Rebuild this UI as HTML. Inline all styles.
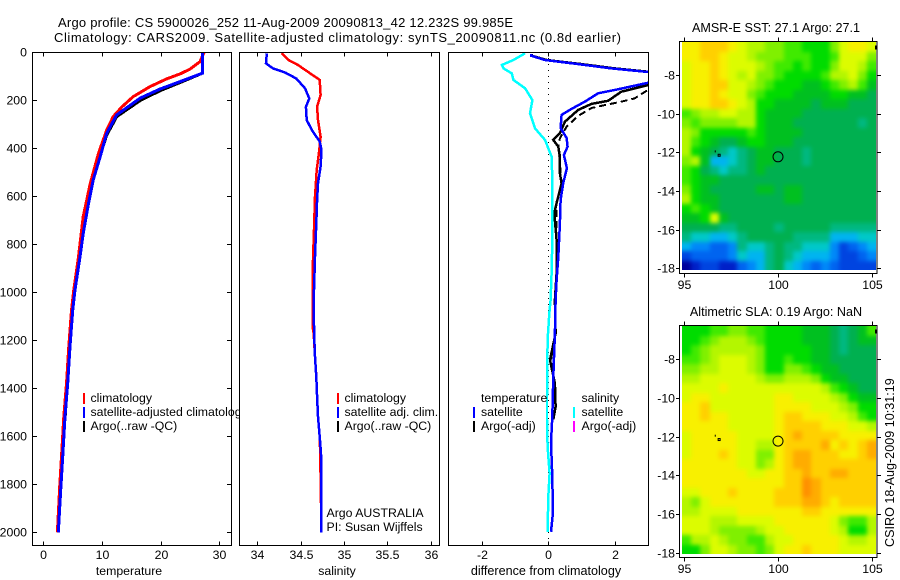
<!DOCTYPE html>
<html>
<head>
<meta charset="utf-8">
<title>Argo profile</title>
<style>
html,body{margin:0;padding:0;background:#fff;width:900px;height:580px;overflow:hidden}
svg{display:block}
text{font-family:"Liberation Sans",sans-serif;font-size:12.3px;fill:#000}
</style>
</head>
<body>
<svg id="chart" xmlns="http://www.w3.org/2000/svg" width="900" height="580" viewBox="0 0 900 580">
<defs>
<clipPath id="clip-temp"><rect x="32" y="52" width="200" height="494"/></clipPath>
<clipPath id="clip-sal"><rect x="239" y="52" width="201" height="494"/></clipPath>
<clipPath id="clip-diff"><rect x="448" y="52" width="201" height="494"/></clipPath>
<clipPath id="clip-map-sst"><rect x="682" y="42" width="194" height="228"/></clipPath>
<clipPath id="clip-map-sla"><rect x="682" y="326" width="194" height="228"/></clipPath>
<filter id="smooth-field" x="-10%" y="-10%" width="120%" height="120%" color-interpolation-filters="sRGB">
<feGaussianBlur stdDeviation="2.2"/>
<feComponentTransfer><feFuncA type="linear" slope="30"/></feComponentTransfer>
</filter>
</defs>
<rect x="0" y="0" width="900" height="580" fill="#fff"/>
<text x="58" y="27" textLength="455" lengthAdjust="spacing" style="font-size:13px">Argo profile: CS 5900026_252 11-Aug-2009 20090813_42 12.232S 99.985E</text>
<text x="54" y="42" textLength="567" lengthAdjust="spacing" style="font-size:13px">Climatology: CARS2009. Satellite-adjusted climatology: synTS_20090811.nc (0.8d earlier)</text>

<g id="panel-temp">
<g id="temp-lines" clip-path="url(#clip-temp)"></g>
<g id="temp-axes"></g>
<text x="129" y="575" text-anchor="middle">temperature</text>
<g>
<rect x="83" y="393" width="2" height="11" fill="#f00"/>
<rect x="83" y="407" width="2" height="11" fill="#00f"/>
<rect x="83" y="421" width="2" height="11" fill="#000"/>
<text x="90.5" y="402">climatology</text>
<text x="90.5" y="416">satellite-adjusted climatology</text>
<text x="90.5" y="430">Argo(..raw -QC)</text>
</g>
</g>

<g id="panel-sal">
<rect x="239" y="46" width="201" height="500" fill="#fff"/>
<g id="sal-lines" clip-path="url(#clip-sal)"></g>
<g id="sal-axes"></g>
<text x="337" y="575" text-anchor="middle">salinity</text>
<g>
<rect x="337" y="393" width="2" height="11" fill="#f00"/>
<rect x="337" y="407" width="2" height="11" fill="#00f"/>
<rect x="337" y="421" width="2" height="11" fill="#000"/>
<text x="344.5" y="402">climatology</text>
<text x="344.5" y="416">satellite adj. clim.</text>
<text x="344.5" y="430">Argo(..raw -QC)</text>
</g>
<text x="326.5" y="517">Argo AUSTRALIA</text>
<text x="326.5" y="531">PI: Susan Wijffels</text>
</g>

<g id="panel-diff">
<g id="diff-lines" clip-path="url(#clip-diff)"></g>
<g id="diff-axes"></g>
<text x="546" y="575" text-anchor="middle" style="font-size:12.6px">difference from climatology</text>
<g>
<rect x="473" y="407" width="2" height="11" fill="#00f"/>
<rect x="473" y="421" width="2" height="11" fill="#000"/>
<rect x="573" y="407" width="2" height="11" fill="#0ff"/>
<rect x="573" y="421" width="2" height="11" fill="#f0f"/>
<text x="481" y="402">temperature</text>
<text x="481" y="416">satellite</text>
<text x="481" y="430">Argo(-adj)</text>
<text x="581.5" y="402">salinity</text>
<text x="581.5" y="416">satellite</text>
<text x="581.5" y="430">Argo(-adj)</text>
</g>
</g>

<g id="map-sst"></g>
<text x="776" y="32" text-anchor="middle" style="font-size:12.6px">AMSR-E SST: 27.1 Argo: 27.1</text>
<g id="map-sla"></g>
<text x="776" y="316" text-anchor="middle" style="font-size:12.6px">Altimetric SLA: 0.19 Argo: NaN</text>
<text transform="translate(894,547) rotate(-90)" style="font-size:12.6px">CSIRO 18-Aug-2009 10:31:19</text>
</svg>

<script>
// ---- tick labels ----
const depthTicks = [0, 200, 400, 600, 800, 1000, 1200, 1400, 1600, 1800, 2000];
const tempTicks = [0, 10, 20, 30];
const salTicks = [34, 34.5, 35, 35.5, 36];
const diffTicks = [-2, 0, 2];
const lonTicks = [95, 100, 105];
const latTicks = [-8, -10, -12, -14, -16, -18];

// ---- temperature panel ----
const tempClimDepth = [0, 39, 70, 90, 111, 143, 185, 227, 268, 324, 421, 546, 685, 852, 990, 1075, 1226, 1380, 1518, 1685, 1810, 2000];
const tempClimValue = [27.4, 26.7, 25, 23.3, 21, 18.2, 15.3, 13.4, 11.9, 10.8, 9.4, 8, 6.8, 6, 5.2, 4.8, 4.35, 3.95, 3.5, 3.1, 2.8, 2.4];
const tempSatDepth = [0, 87, 122, 153, 191, 261, 337, 435, 532, 630, 755, 852, 990, 1075, 1226, 1380, 1518, 1685, 1810, 2000];
const tempSatValue = [27.1, 27.1, 23.3, 19.9, 16.5, 12.5, 10.8, 9.7, 8.5, 7.7, 6.8, 6.25, 5.4, 5, 4.55, 4.15, 3.7, 3.3, 3, 2.56];
const tempArgoDepth = [0, 87, 125, 158, 198, 268, 345, 435, 532, 630, 755, 852, 990, 1075, 1226, 1380, 1530];
const tempArgoValue = [27.1, 27.1, 23.4, 20.1, 16.7, 12.5, 10.8, 9.6, 8.4, 7.6, 6.7, 6.2, 5.3, 4.9, 4.4, 4.1, 3.7];

// ---- salinity panel ----
const salClimDepth = [4, 32, 53, 88, 115, 178, 227, 282, 352, 421, 490, 602, 727, 893, 1030, 1150, 1171, 1268, 1352, 1435, 1518, 1602, 1671, 2000];
const salClimValue = [34.28, 34.36, 34.47, 34.61, 34.72, 34.73, 34.69, 34.7, 34.73, 34.71, 34.685, 34.665, 34.655, 34.64, 34.64, 34.64, 34.65, 34.665, 34.68, 34.69, 34.7, 34.72, 34.725, 34.74];
const salSatDepth = [4, 46, 67, 84, 109, 150, 192, 227, 282, 324, 372, 407, 476, 546, 615, 712, 852, 977, 1030, 1171, 1268, 1352, 1435, 1518, 1602, 1671, 2000];
const salSatValue = [34.11, 34.1, 34.18, 34.32, 34.45, 34.55, 34.6, 34.56, 34.57, 34.63, 34.72, 34.74, 34.73, 34.7, 34.69, 34.68, 34.665, 34.655, 34.65, 34.655, 34.665, 34.68, 34.69, 34.7, 34.72, 34.735, 34.74];

// ---- difference panel ----
const diffSalDepth = [4, 32, 53, 67, 88, 115, 150, 199, 254, 317, 365, 435, 532, 671, 782, 921, 1032, 1088, 1199, 1435, 1530, 1643, 1754, 1852, 1998];
const diffSalValue = [-0.7, -1.05, -1.4, -1.35, -1.1, -1.05, -0.7, -0.48, -0.55, -0.4, -0.1, 0.1, 0.12, 0.12, 0.12, 0.1, 0.07, 0.03, -0.02, -0.04, -0.04, -0.02, 0.04, 0, -0.02];
const diffTempSatDepth = [8, 14, 32, 49, 67, 82, 100, 127, 154, 171, 206, 236, 261, 316, 357, 393, 428, 483, 546, 615, 712, 852, 949, 1032, 1171, 1352, 1518, 1628, 1768, 1920, 1998];
const diffTempSatValue = [-0.52, -0.52, -0.1, 0.9, 1.9, 3, 4.5, 3, 2.1, 1.5, 1.1, 0.7, 0.4, 0.37, 0.55, 0.58, 0.47, 0.56, 0.45, 0.37, 0.35, 0.3, 0.25, 0.22, 0.2, 0.15, 0.12, 0.08, 0.12, 0.14, 0.08];
const diffTempArgoDepth = [8, 14, 32, 49, 67, 82, 100, 130, 164, 202, 215, 240, 289, 337, 365, 393, 435, 504, 546, 628, 671, 782, 921, 1032, 1171, 1282, 1380, 1477, 1530];
const diffTempArgoValue = [-0.5, -0.5, -0.05, 1, 2, 3.1, 4.5, 3.2, 2.2, 1.8, 1.3, 0.9, 0.5, 0.35, 0.15, 0.3, 0.35, 0.35, 0.4, 0.25, 0.18, 0.25, 0.25, 0.2, 0.22, 0.05, 0.2, 0.22, 0.15];
const diffTempRawDepth = [130, 157, 192, 206, 220, 232, 265, 310, 358, 393, 463, 546, 628, 782, 921, 1032, 1171, 1282, 1380, 1477, 1530];
const diffTempRawValue = [3.6, 3, 2.6, 2.2, 1.7, 1.3, 0.9, 0.55, 0.35, 0.3, 0.35, 0.4, 0.25, 0.25, 0.25, 0.2, 0.22, 0.08, 0.2, 0.22, 0.15];

// ---- map grids (colour level, west to east, north to south) ----
const sstGrid = [
[15,15,16,16,16,15,14,13,13,12,12,11,11,10,10,10,12,14,15,15,14],
[15,15,16,16,15,14,14,13,12,12,12,11,11,11,10,10,11,14,14,14,12],
[14,15,15,16,15,14,14,14,13,12,11,11,10,11,10,10,12,14,14,13,11],
[14,15,15,16,15,14,13,14,12,12,11,10,10,10,10,11,13,13,14,12,10],
[14,15,15,16,16,14,14,13,12,11,10,10,10,9,9,10,11,12,13,11,9],
[14,15,15,16,15,14,14,12,11,10,10,10,9,9,9,9,10,10,9,9,8],
[14,15,15,16,16,15,14,13,10,10,9,9,9,9,8,9,9,9,8,8,8],
[11,12,13,13,14,14,13,13,10,9,9,9,9,8,8,8,8,8,8,8,8],
[12,11,12,12,12,12,13,13,10,9,9,9,8,8,8,8,8,8,8,7,8],
[13,12,10,10,10,10,10,11,10,9,9,9,9,8,8,8,8,8,8,8,8],
[13,11,10,9,8,8,9,10,10,9,9,9,8,8,8,8,8,8,8,8,8],
[13,10,9,8,7,6,7,8,9,9,8,8,8,7,8,8,8,8,8,8,8],
[12,13,9,5,5,6,7,8,9,9,8,8,8,7,8,8,8,8,8,8,8],
[11,10,8,7,6,7,7,8,9,8,8,8,8,8,8,8,8,8,8,8,8],
[11,10,9,9,8,8,8,8,8,8,8,8,8,8,8,8,8,8,8,8,8],
[12,10,9,8,8,8,8,8,9,9,8,9,9,8,8,8,8,8,8,8,8],
[13,10,9,9,8,8,8,8,8,8,8,9,9,8,8,8,8,8,8,8,8],
[10,11,10,9,8,8,8,8,8,8,8,8,8,8,8,8,8,8,8,8,8],
[9,9,10,14,9,8,8,8,8,8,8,8,8,8,8,8,8,8,8,8,8],
[8,8,8,8,7,7,8,8,8,8,7,8,8,8,8,8,7,7,7,7,7],
[7,6,6,5,5,6,7,8,8,8,8,8,7,7,7,7,5,5,5,6,6],
[5,4,4,3,3,4,7,6,6,7,8,7,7,6,6,6,4,2,3,4,5],
[2,3,3,3,3,4,6,5,5,7,8,7,6,5,5,5,4,2,2,3,4],
[0,1,2,2,1,1,3,4,5,7,8,6,5,4,3,4,3,2,2,2,2]
];
const slaGrid = [
[10,10,10,11,11,12,12,11,11,10,10,10,10,9,9,9,8,7,8,9,11],
[10,10,11,12,13,13,13,12,11,10,10,10,10,9,9,9,8,7,8,9,9],
[10,11,12,13,13,13,13,13,12,10,10,10,10,10,9,9,8,7,8,8,8],
[11,11,12,13,14,14,14,13,12,10,10,11,10,10,9,9,8,8,8,8,8],
[12,12,13,13,14,14,14,13,12,10,10,12,12,11,10,9,9,8,8,8,8],
[13,13,14,14,14,14,14,14,13,12,12,13,13,13,12,10,9,9,8,8,8],
[14,14,14,14,15,14,14,14,14,14,14,14,14,14,14,13,11,10,9,8,8],
[14,15,15,14,14,14,14,14,14,14,15,15,14,14,14,14,13,12,10,9,9],
[15,15,16,14,14,14,14,14,14,14,15,15,15,15,14,14,14,13,12,10,10],
[15,15,16,15,15,14,14,14,14,14,15,16,16,15,15,15,14,14,13,11,10],
[15,15,15,15,15,14,14,14,14,14,15,16,16,16,16,15,15,15,14,14,13],
[14,15,15,15,15,15,14,14,14,14,15,16,17,16,16,16,16,15,15,15,15],
[14,15,15,15,15,15,14,14,13,13,15,16,16,16,16,17,15,16,15,16,17],
[14,15,15,15,16,15,14,14,12,12,15,16,17,17,16,16,16,15,15,16,17],
[15,15,15,15,15,15,14,14,12,13,15,16,17,17,16,16,16,16,16,16,16],
[15,15,15,15,15,15,15,14,14,15,15,16,16,17,16,16,17,17,16,16,16],
[15,15,15,15,15,15,15,15,15,15,15,16,16,18,17,16,16,16,16,16,16],
[14,14,15,15,15,16,15,15,15,15,16,16,16,18,17,16,16,16,16,16,16],
[13,12,14,15,15,15,15,15,15,15,16,16,16,17,17,16,15,16,16,16,16],
[13,13,14,14,14,14,15,15,15,15,15,15,15,16,16,15,15,15,15,15,15],
[14,14,14,13,13,13,14,14,14,14,15,15,15,15,15,15,14,12,11,11,13],
[14,14,14,13,12,12,12,12,13,14,14,15,15,15,15,15,14,13,10,10,13],
[11,13,13,14,13,12,12,11,11,13,14,14,15,15,15,15,15,14,13,13,14],
[10,10,12,14,14,13,12,12,11,12,14,15,15,16,15,15,15,14,14,14,14]
];
const levelColors = ['#00009c','#0020c8','#0044e0','#0064f0','#0088f8','#00b4f0','#00c8c8','#00b880','#00b050','#00c020','#00dc00','#40ea00','#80f000','#b4f600','#dcfc00','#f8f000','#ffd000','#ffac00','#ff9000'];
const profileLon = 99.985;
const profileLat = -12.232;

const NS = 'http://www.w3.org/2000/svg';
function make(tag, attrs, parent) {
  const el = document.createElementNS(NS, tag);
  for (const k in attrs) el.setAttribute(k, attrs[k]);
  parent.appendChild(el);
  return el;
}
const depthY = d => 52.3 + d * 0.24;
const tempX = v => 43.3 + v * 5.87;
const salX = v => 257.3 + (v - 34) * 86.7;
const diffX = v => 548.3 + v * 33.2;
const lonX = v => 684.3 + (v - 95) * 18.8;

function drawLine(parent, xFn, depths, values, color, width, name, dash) {
  const pts = depths.map((d, i) => xFn(values[i]).toFixed(1) + ',' + depthY(d).toFixed(1)).join(' ');
  const attrs = {points: pts, fill: 'none', stroke: color, 'stroke-width': width, 'shape-rendering': 'crispEdges'};
  if (dash) attrs['stroke-dasharray'] = dash;
  const line = make('polyline', attrs, parent);
  
  
}
function line(parent, x1, y1, x2, y2, name) {
  const el = make('line', {x1: x1, y1: y1, x2: x2, y2: y2, stroke: '#000', 'stroke-width': 1, 'shape-rendering': 'crispEdges'}, parent);
  
  
}
function label(parent, x, y, str, anchor, name) {
  const t = make('text', {x: x, y: y, 'text-anchor': anchor}, parent);
  t.textContent = str;
  
  
}
function box(parent, x, y, w, h, name) {
  const r = make('rect', {x: x, y: y, width: w, height: h, fill: 'none', stroke: '#000', 'stroke-width': 1, 'shape-rendering': 'crispEdges'}, parent);
  
  
}
function profileAxes(parent, left, right, xFn, ticks, fmt) {
  const top = 52.5, bottom = 545.5;
  box(parent, left, top, right - left, bottom - top, 'plot-frame');
  ticks.forEach(v => {
    const x = Math.round(xFn(v)) + 0.5;
    line(parent, x, top, x, top + 4, 'x-tick-top');
    line(parent, x, bottom, x, bottom - 4, 'x-tick-bottom');
    label(parent, x, 559, fmt(v), 'middle', 'x-tick-label');
  });
}

// temperature
const tl = document.getElementById('temp-lines');
drawLine(tl, tempX, tempArgoDepth, tempArgoValue, '#000', 3, 'temperature-argo-line');
drawLine(tl, tempX, tempClimDepth, tempClimValue, '#f00', 3, 'temperature-climatology-line');
drawLine(tl, tempX, tempSatDepth, tempSatValue, '#00f', 3, 'temperature-satellite-line');
const ta = document.getElementById('temp-axes');
profileAxes(ta, 32.5, 231.5, tempX, tempTicks, String);
depthTicks.forEach(d => {
  const y = Math.round(depthY(d)) + 0.5;
  line(ta, 32.5, y, 37, y, 'y-tick-left');
  line(ta, 231.5, y, 227, y, 'y-tick-right');
  label(ta, 27, y + 4, String(d), 'end', 'y-tick-label');
});

// salinity
const sl = document.getElementById('sal-lines');
drawLine(sl, salX, salClimDepth, salClimValue, '#f00', 2.5, 'salinity-climatology-line');
drawLine(sl, salX, salSatDepth, salSatValue, '#00f', 2.5, 'salinity-satellite-line');
profileAxes(document.getElementById('sal-axes'), 239.5, 439.5, salX, salTicks, String);

// difference
const dl = document.getElementById('diff-lines');
const zero = make('line', {x1: diffX(0), y1: 52, x2: diffX(0), y2: 546, stroke: '#000', 'stroke-width': 1, 'stroke-dasharray': '1 5', 'shape-rendering': 'crispEdges'}, dl);


drawLine(dl, diffX, diffTempRawDepth, diffTempRawValue, '#000', 2, 'temperature-argo-raw-difference-line', '7 4');
drawLine(dl, diffX, diffTempArgoDepth, diffTempArgoValue, '#000', 2.5, 'temperature-argo-difference-line');
drawLine(dl, diffX, diffTempSatDepth, diffTempSatValue, '#00f', 2.5, 'temperature-satellite-difference-line');
drawLine(dl, diffX, diffSalDepth, diffSalValue, '#0ff', 2.5, 'salinity-satellite-difference-line');
profileAxes(document.getElementById('diff-axes'), 448.5, 648.5, diffX, diffTicks, v => String(v));

// maps
function drawMap(parent, grid, clipId, lat8Y, frameTop, frameBottom, imgTop, imgBottom, xLabelY) {
  const latY = v => lat8Y + (-8 - v) * 19.33;
  const rows = grid.length;
  const cols = grid[0].length;
  const imgLeft = 682, imgRight = 876;
  const cw = (imgRight - imgLeft) / cols;
  const ch = (imgBottom - imgTop) / rows;
  const clipGroup = make('g', {'clip-path': 'url(#' + clipId + ')'}, parent);
  
  
  const field = make('g', {filter: 'url(#smooth-field)'}, clipGroup);
  
  
  grid.forEach((row, r) => row.forEach((v, c) => {
    const x0 = Math.round(imgLeft + c * cw), x1 = Math.round(imgLeft + (c + 1) * cw);
    const y0 = Math.round(imgTop + r * ch), y1 = Math.round(imgTop + (r + 1) * ch);
    const cell = make('rect', {x: x0, y: y0, width: x1 - x0, height: y1 - y0, fill: levelColors[v], 'shape-rendering': 'crispEdges'}, field);
    
    
  }));
  box(parent, 679.5, frameTop, 197.5, frameBottom - frameTop, 'map-frame');
  lonTicks.forEach(v => {
    const x = Math.round(lonX(v)) + 0.5;
    line(parent, x, frameTop, x, frameTop - 4, 'map-x-tick-top');
    line(parent, x, frameBottom, x, frameBottom + 4, 'map-x-tick-bottom');
    label(parent, x, xLabelY, String(v), 'middle', 'map-x-tick-label');
  });
  latTicks.forEach(v => {
    const y = Math.round(latY(v)) + 0.5;
    line(parent, 679.5, y, 676, y, 'map-y-tick-left');
    line(parent, 877, y, 881, y, 'map-y-tick-right');
    label(parent, 675, y + 4, String(v), 'end', 'map-y-tick-label');
  });
  const marker = make('circle', {cx: lonX(profileLon), cy: latY(profileLat), r: 5, fill: 'none', stroke: '#000', 'stroke-width': 1}, parent);
  
  
  const isle1 = make('rect', {x: lonX(96.62), y: latY(-11.9), width: 1, height: 2, fill: '#000'}, parent);
  
  
  const isle2 = make('rect', {x: lonX(96.8), y: latY(-12.1), width: 2, height: 2, fill: 'none', stroke: '#000', 'stroke-width': 1}, parent);
  
  
  const corner = make('rect', {x: 875, y: frameTop + 4, width: 2, height: 4, fill: '#000'}, parent);
  
  
}
drawMap(document.getElementById('map-sst'), sstGrid, 'clip-map-sst', 75, 41.5, 273.5, 42, 270, 289);
drawMap(document.getElementById('map-sla'), slaGrid, 'clip-map-sla', 359.3, 325.5, 557.5, 326, 554, 573);
</script>
</body>
</html>
